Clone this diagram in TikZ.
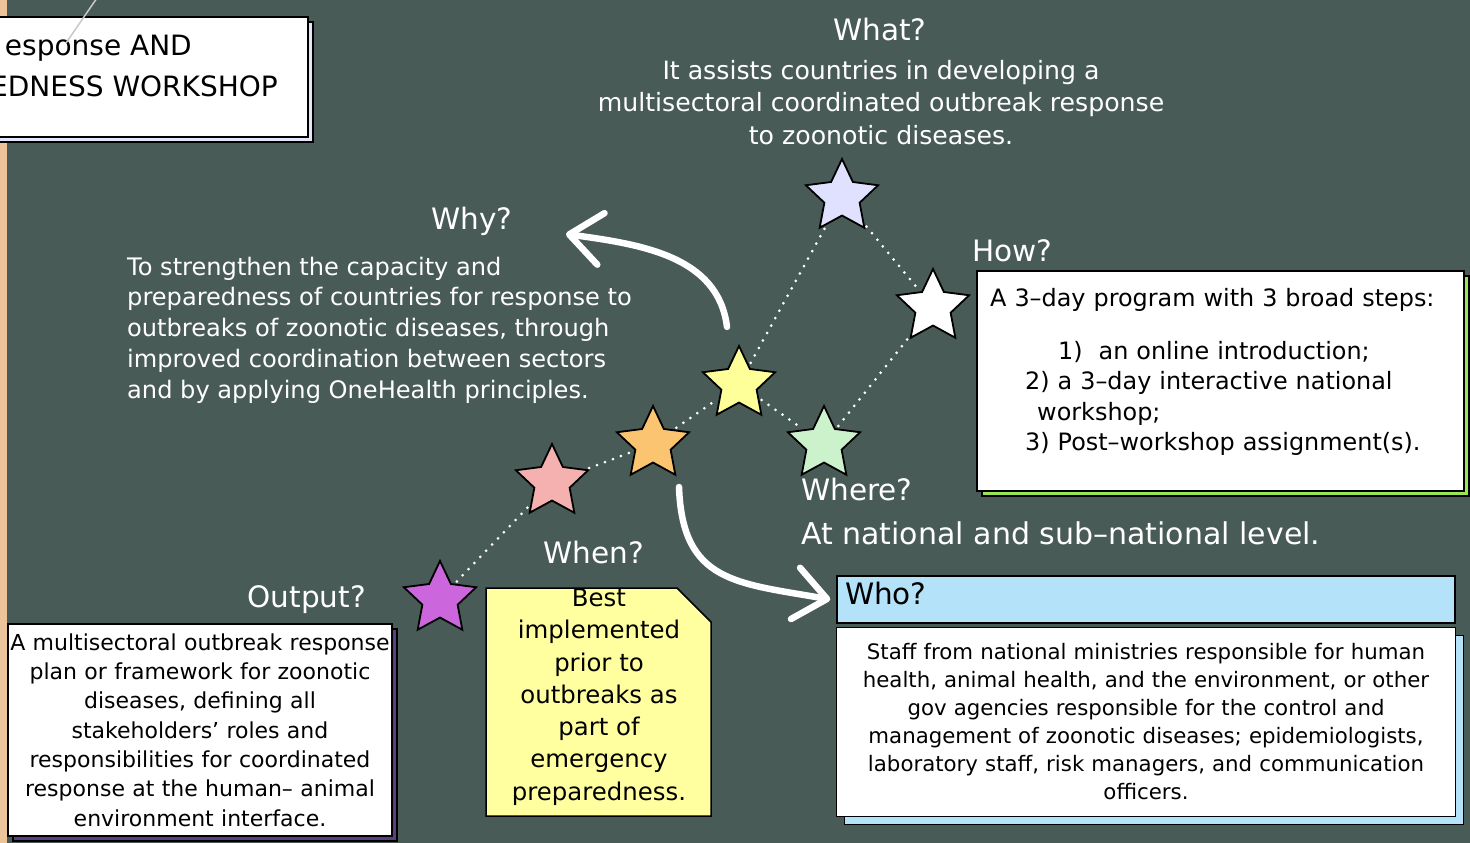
\documentclass[tikz,border=0pt]{standalone}
\usepackage{fontspec}
\setmainfont{DejaVu Sans}
\usepackage{tikz}
\usetikzlibrary{shapes.geometric, arrows.meta, positioning, shadows}

\definecolor{slate}{RGB}{73,91,86}
\definecolor{peach}{RGB}{236,196,155}
\definecolor{leadgray}{RGB}{200,200,200}
\definecolor{titlelav}{RGB}{228,228,252}
\definecolor{starlav}{RGB}{224,224,255}
\definecolor{staryel}{RGB}{255,255,153}
\definecolor{stargrn}{RGB}{204,242,204}
\definecolor{starorg}{RGB}{250,196,112}
\definecolor{starpnk}{RGB}{245,176,176}
\definecolor{starpur}{RGB}{204,102,221}
\definecolor{whenyel}{RGB}{255,255,160}
\definecolor{whoblue}{RGB}{180,226,248}
\definecolor{howgreen}{RGB}{153,230,85}
\definecolor{outpurple}{RGB}{90,64,128}

\begin{document}
\begin{tikzpicture}[x=1pt, y=-1pt,
    gem/.style={star, star points=5, star point ratio=2.05, draw=black, line width=1.8pt, minimum size=76pt, inner sep=0pt},
    hd/.style={text=white, inner sep=0pt, font=\fontsize{29.5}{34}\selectfont},
    say/.style={text=white, inner sep=0pt},
    trail/.style={white, line width=3pt, line cap=round, dash pattern=on 0pt off 8.5pt, shorten <=3pt, shorten >=3pt},
    swoop/.style={white, line width=6.5pt, line cap=round, -{Straight Barb[length=32pt, width=52pt, round]}},
    card/.style={draw=black, fill=white, line width=1.5pt, inner sep=0pt},
    ]

    \useasboundingbox (0,0) rectangle (1470,843);
    \fill[peach] (0,0) rectangle (1470,843);
    \fill[slate] (7,-30) -- (1474,-30) -- (1474,820) .. controls (1474,847) .. (1447,847) -- (7,847) -- cycle;

    \node(titlebox)[card, minimum width=320pt, minimum height=120pt,
        general shadow={fill=titlelav, draw=black, line width=1.5pt, shadow xshift=5pt, shadow yshift=-5pt}] at (148,77) {};
    \node(title1)[inner sep=0pt, anchor=east, font=\fontsize{28}{34}\selectfont] at (192,48) {esponse AND};
    \node(title2)[inner sep=0pt, anchor=east, font=\fontsize{28}{34}\selectfont] at (278,86) {EDNESS WORKSHOP};
    \coordinate (leadtop) at (97,-2);
    \coordinate (leadend) at (66,43);
    \draw[leadgray, line width=1.5pt] (leadtop) -- (leadend);

    \node(whatq)[hd] at (880,30) {What?};
    \node(whatt)[say, align=center, font=\fontsize{25.2}{32.5}\selectfont] at (881,102.5)
        {It assists countries in developing a\\ multisectoral coordinated outbreak response\\ to zoonotic diseases.};

    \node(whyq)[hd] at (472,221) {Why?};
    \node(whyt)[say, anchor=west, align=left, font=\fontsize{24.1}{30.75}\selectfont] at (127,330)
        {To strengthen the capacity and\\ preparedness of countries for response to\\ outbreaks of zoonotic diseases, through\\ improved coordination between sectors\\ and by applying OneHealth principles.};

    \node(howq)[hd, anchor=west] at (972,251) {How?};
    \node(howbox)[card, minimum width=487pt, minimum height=220pt,
        general shadow={fill=howgreen, draw=black, line width=1.5pt, shadow xshift=5pt, shadow yshift=-5pt}] at (1220.5,381) {};
    \node(howt)[inner sep=0pt, anchor=west, text width=470pt, align=left, font=\fontsize{23.9}{30.5}\selectfont] at (990,372)
        {A 3–day program with 3 broad steps:\\[22.5pt]
        \hspace*{68pt}1)~~an online introduction;\\
        \hspace*{35pt}2) a 3–day interactive national\\
        \hspace*{47pt}workshop;\\
        \hspace*{35pt}3) Post–workshop assignment(s).};

    \node(whereq)[hd, anchor=west] at (801,489) {Where?};
    \node(wheret)[say, anchor=west, font=\fontsize{30}{34}\selectfont] at (801,533) {At national and sub–national level.};

    \node(whenq)[hd] at (594,552) {When?};
    \draw[fill=whenyel, line width=1.5pt] (486,588) -- (677,588) -- (711,622) -- (711,816) -- (486,816) -- cycle;
    \node(whent)[inner sep=0pt, align=center, font=\fontsize{24.4}{32.3}\selectfont] at (599,697)
        {Best\\ implemented\\ prior to\\ outbreaks as\\ part of\\ emergency\\ preparedness.};

    \node(outq)[hd, anchor=east] at (366,600) {Output?};
    \node(outbox)[card, minimum width=384pt, minimum height=212pt, text width=384pt, align=center,
        font=\fontsize{22}{29.3}\selectfont,
        general shadow={fill=outpurple, draw=black, line width=1.5pt, shadow xshift=5pt, shadow yshift=-5pt}] at (200,730)
        {A multisectoral outbreak response\\ plan or framework for zoonotic\\ diseases, defining all\\ stakeholders’ roles and\\ responsibilities for coordinated\\ response at the human– animal\\ environment interface.};

    \node(whohead)[draw=black, fill=whoblue, line width=1.5pt, minimum width=618pt, minimum height=47pt,
        inner xsep=8pt, inner ysep=0pt, text width=602pt, align=left, text depth=12pt,
        font=\fontsize{29.5}{34}\selectfont] at (1146,599.5) {Who?};
    \node(whobody)[card, below=3pt of whohead, minimum width=619pt, minimum height=189pt, text width=600pt, align=center,
        font=\fontsize{21.3}{28}\selectfont,
        general shadow={fill=whoblue, draw=black, line width=1.5pt, shadow xshift=8pt, shadow yshift=-8pt}]
        {Staff from national ministries responsible for human\\ health, animal health, and the environment, or other\\ gov agencies responsible for the control and\\ management of zoonotic diseases; epidemiologists,\\ laboratory staff, risk managers, and communication\\ officers.};

    \node(lav)[gem, fill=starlav] at (842,197) {};
    \node(wht)[gem, fill=white] at (933,307) {};
    \node(yel)[gem, fill=staryel] at (739,384) {};
    \node(grn)[gem, fill=stargrn] at (824,444) {};
    \node(org)[gem, fill=starorg] at (653,444) {};
    \node(pnk)[gem, fill=starpnk] at (552,482) {};
    \node(pur)[gem, fill=starpur] at (440,599) {};

    \draw (pur) edge[trail] (pnk)
          (pnk) edge[trail] (org)
          (org) edge[trail] (yel)
          (yel) edge[trail] (lav)
          (lav) edge[trail] (wht)
          (yel) edge[trail] (grn)
          (grn) edge[trail] (wht)
          ;

    \coordinate (whyfrom) at ([xshift=-12pt, yshift=17pt]yel.north);
    \coordinate (whytip) at (566,234);
    \coordinate (whenfrom) at ([xshift=26pt, yshift=-43pt]org.center);
    \draw[swoop] (whyfrom) to[out=97, in=-8] (whytip);
    \draw[swoop] (whenfrom) to[out=-88, in=170, looseness=1.3] ([xshift=-6pt]whohead.west);

\end{tikzpicture}
\end{document}
